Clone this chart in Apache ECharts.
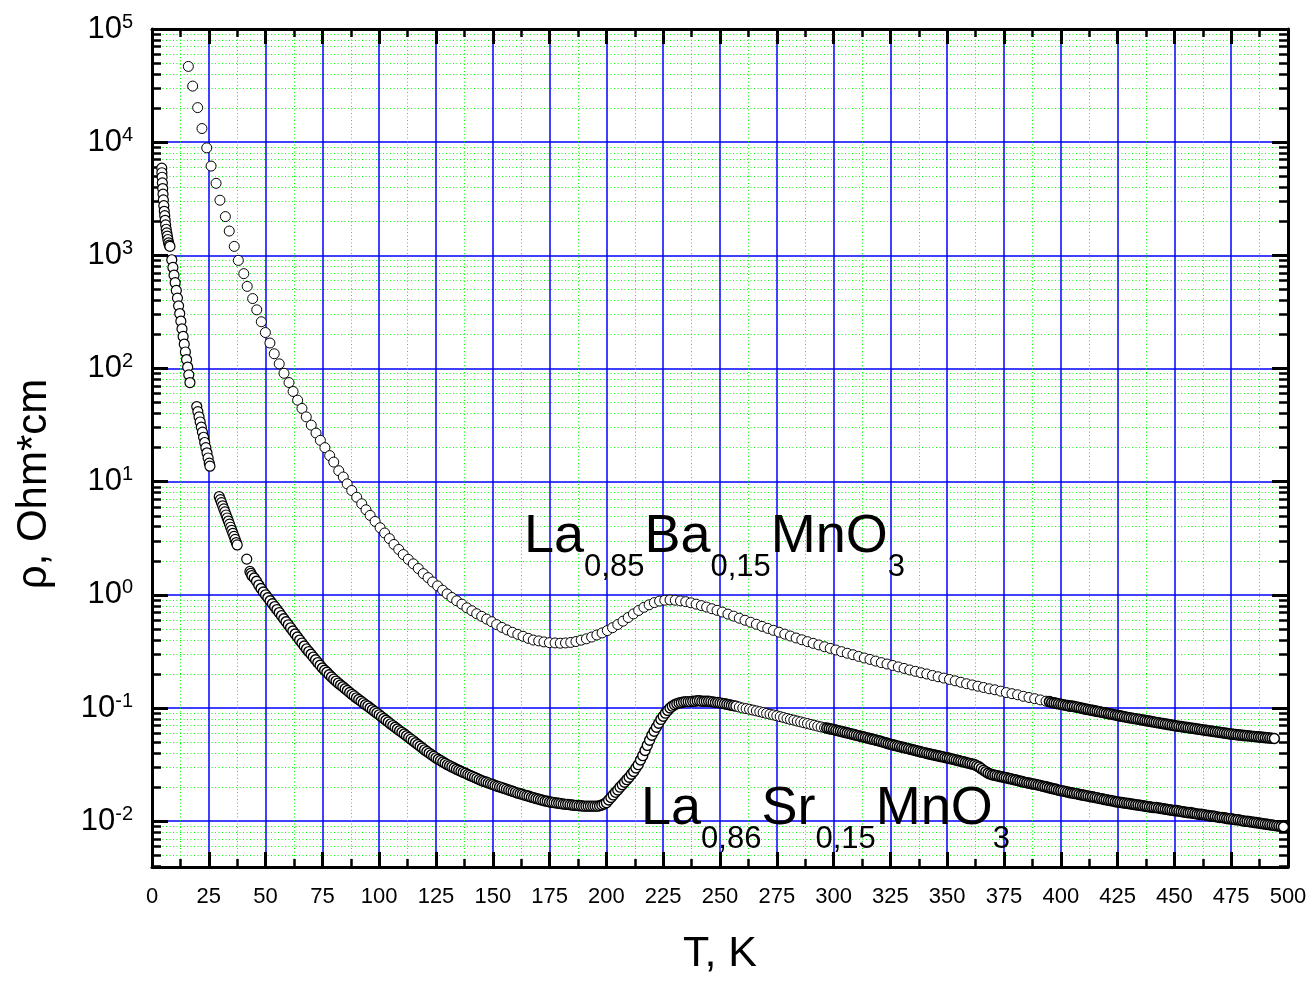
<!DOCTYPE html>
<html>
<head>
<meta charset="utf-8">
<script src="https://cdn.jsdelivr.net/npm/echarts@6/dist/echarts.min.js"></script>
<style>
html,body{margin:0;padding:0;background:#fff;}
#chart{width:1311px;height:981px;}
</style>
</head>
<body>
<div id="chart"></div>
<script>
// ---- Data: [T (K), rho (Ohm*cm)] ----
// La0.85Ba0.15MnO3 : sparse part
const baSparse = [[16.0,46700],[17.9,31300],[20.1,20200],[22.0,13200],[24.1,8910],[26.0,6150],[28.2,4330],[29.9,3070],[32.3,2200],[34.0,1640],[36.2,1200],[38.0,902],[40.4,689],[41.9,532],[44.3,415],[46.1,330],[48.1,259],[49.9,208],[51.9,168],[53.8,135],[56.0,110],[58.1,90.8],[60.3,75.2],[62.1,62.7],[64.1,52.5],[66.0,44.4],[67.9,37.4],[70.1,31.6],[72.2,26.9],[74.1,23.2],[76.1,20.0],[78.2,17.0],[80.0,14.9],[82.2,12.5],[84.2,11.0],[85.9,9.57],[87.9,8.36],[90.1,7.29],[92.3,6.38],[94.2,5.65],[96.0,5.04],[98.2,4.46],[100.4,3.92],[102.4,3.52],[104.5,3.14],[106.5,2.79],[108.6,2.52],[110.6,2.27],[112.8,2.06],[115.0,1.88],[117.2,1.71],[119.4,1.54],[121.5,1.42],[123.5,1.30],[125.7,1.20],[127.9,1.10],[129.9,1.02],[132.0,0.948],[134.1,0.887],[136.4,0.828],[138.6,0.769],[140.8,0.724],[142.9,0.681],[145.1,0.646],[147.3,0.611],[149.5,0.579],[151.7,0.546],[154.0,0.516],[156.3,0.490],[158.6,0.467],[161.0,0.448],[163.3,0.431],[165.6,0.413],[167.8,0.399],[170.2,0.392],[172.5,0.384],[174.9,0.378],[177.4,0.376],[179.7,0.374],[182.0,0.376],[184.3,0.380],[186.6,0.387],[188.9,0.398],[191.2,0.409],[193.5,0.424],[195.8,0.442],[198.1,0.461],[200.4,0.484],[202.7,0.513],[205.0,0.547],[207.3,0.586],[209.6,0.631],[211.9,0.679],[214.2,0.728],[216.5,0.776],[218.8,0.817],[221.1,0.855],[223.4,0.881],[225.7,0.897],[228.0,0.902],[230.3,0.897],[232.6,0.885],[234.9,0.871],[237.2,0.851],[239.5,0.828],[241.8,0.804],[244.1,0.780],[246.4,0.755],[248.7,0.730],[251.0,0.705],[253.5,0.676],[256.0,0.649],[258.5,0.622],[261.0,0.597],[263.5,0.573],[266.0,0.550],[268.5,0.527],[271.0,0.506],[273.5,0.486],[276.0,0.468],[278.5,0.450],[281.0,0.433],[283.5,0.416],[286.0,0.401],[288.5,0.386],[291.0,0.373],[293.5,0.361],[296.0,0.348],[298.5,0.337],[301.0,0.326],[303.5,0.315],[306.0,0.305],[308.5,0.296],[311.0,0.286],[313.5,0.277],[316.0,0.269],[318.5,0.260],[321.0,0.252],[323.5,0.245],[326.0,0.238],[328.5,0.231],[331.0,0.224],[333.5,0.217],[336.0,0.211],[338.5,0.205],[341.0,0.200],[343.5,0.194],[346.0,0.189],[348.5,0.184],[351.0,0.179],[353.5,0.174],[356.0,0.169],[358.5,0.164],[361.0,0.160],[363.5,0.156],[366.0,0.152],[368.5,0.148],[371.0,0.145],[373.5,0.141],[376.0,0.137],[378.5,0.134],[381.0,0.131],[383.5,0.127],[386.0,0.124],[388.5,0.121],[391.0,0.118],[393.5,0.115]];
// La0.85Ba0.15MnO3 : dense part
const baDense = [[395,0.114],[396,0.112],[397,0.111],[398,0.110],[399,0.109],[400,0.108],[401,0.107],[402,0.106],[403,0.105],[404,0.104],[405,0.104],[406,0.103],[407,0.102],[408,0.101],[409,0.0998],[410,0.0989],[411,0.0979],[412,0.0970],[413,0.0962],[414,0.0953],[415,0.0944],[416,0.0935],[417,0.0927],[418,0.0918],[419,0.0910],[420,0.0902],[421,0.0893],[422,0.0885],[423,0.0877],[424,0.0869],[425,0.0861],[426,0.0853],[427,0.0845],[428,0.0837],[429,0.0830],[430,0.0822],[431,0.0817],[432,0.0809],[433,0.0804],[434,0.0796],[435,0.0791],[436,0.0783],[437,0.0778],[438,0.0771],[439,0.0766],[440,0.0759],[441,0.0753],[442,0.0746],[443,0.0741],[444,0.0735],[445,0.0729],[446,0.0723],[447,0.0718],[448,0.0711],[449,0.0706],[450,0.0700],[451,0.0695],[452,0.0690],[453,0.0685],[454,0.0681],[455,0.0676],[456,0.0671],[457,0.0667],[458,0.0662],[459,0.0658],[460,0.0653],[461,0.0649],[462,0.0644],[463,0.0640],[464,0.0635],[465,0.0631],[466,0.0627],[467,0.0622],[468,0.0618],[469,0.0614],[470,0.0610],[471,0.0605],[472,0.0601],[473,0.0597],[474,0.0593],[475,0.0589],[476,0.0586],[477,0.0583],[478,0.0579],[479,0.0577],[480,0.0574],[481,0.0571],[482,0.0569],[483,0.0566],[484,0.0564],[485,0.0561],[486,0.0558],[487,0.0556],[488,0.0553],[489,0.0551],[490,0.0548],[491,0.0546],[492,0.0543],[493,0.0541],[494,0.0538]];
// La0.86Sr0.15MnO3 : low-temperature clusters
const srLowT = [[4.3,5890],[4.35,5370],[4.45,4900],[4.55,4370],[4.7,3890],[4.85,3470],[5.0,3090],[5.2,2750],[5.4,2450],[5.6,2240],[5.8,2040],[6.0,1860],[6.25,1700],[6.5,1580],[6.75,1480],[7.0,1380],[7.3,1290],[7.6,1230],[7.9,1200],
[8.7,914],[9.2,782],[9.7,668],[10.2,573],[10.7,490],[11.2,419],[11.7,358],[12.2,306],[12.7,262],[13.2,224],[13.7,192],[14.2,164],[14.7,140],[15.2,120],[15.7,103],[16.2,87.9],[16.7,75.2],
[19.7,46.1],[20.2,41.6],[20.7,37.4],[21.2,33.7],[21.7,30.3],[22.2,27.4],[22.7,24.7],[23.2,22.2],[23.7,20.0],[24.2,18.0],[24.7,16.2],[25.2,14.6],[25.5,13.7],
[29.6,7.38],[30.1,6.93],[30.6,6.52],[31.1,6.12],[31.6,5.75],[32.1,5.41],[32.6,5.08],[33.1,4.78],[33.6,4.49],[34.1,4.22],[34.6,3.96],[35.1,3.72],[35.6,3.50],[36.1,3.29],[36.6,3.09],[37.1,2.90],[37.5,2.76],
[41.7,2.07],[43.1,1.61],[43.5,1.55]];
// La0.86Sr0.15MnO3 : main curve
const srMain1 = [[44,1.48],[45,1.41],[46,1.32],[47,1.22],[48,1.14],[49,1.06],[50,1.00],[51,0.942],[52,0.887],[53,0.836],[54,0.787],[55,0.741],[56,0.697],[57,0.655],[58,0.615],[59,0.578],[60,0.543],[61,0.511],[62,0.480],[63,0.451],[64,0.424],[65,0.398],[66,0.375],[67,0.353],[68,0.333],[69,0.315],[70,0.299],[71,0.282],[72,0.267],[73,0.252],[74,0.239],[75,0.226],[76,0.216],[77,0.207],[78,0.197],[79,0.188],[80,0.180],[81,0.173],[82,0.166],[83,0.160],[84,0.154],[85,0.148],[86,0.143],[87,0.137],[88,0.132],[89,0.128],[90,0.123],[91,0.119],[92,0.115],[93,0.111],[94,0.107],[95,0.104],[96,0.100],[97,0.0966],[98,0.0933],[99,0.0902],[100,0.0871],[101,0.0839],[102,0.0809],[103,0.0780],[104,0.0752],[105,0.0724],[106,0.0700],[107,0.0676],[108,0.0653],[109,0.0631],[110,0.0610],[111,0.0589],[112,0.0569],[113,0.0550],[114,0.0531],[115,0.0513],[116,0.0494],[117,0.0476],[118,0.0459],[119,0.0443],[120,0.0427],[121,0.0413],[122,0.0400],[123,0.0387],[124,0.0375],[125,0.0363],[126,0.0353],[127,0.0344],[128,0.0334],[129,0.0325],[130,0.0316],[131,0.0309],[132,0.0302],[133,0.0295],[134,0.0288],[135,0.0282],[136,0.0276],[137,0.0270],[138,0.0265],[139,0.0259],[140,0.0254],[141,0.0249],[142,0.0244],[143,0.0239],[144,0.0234],[145,0.0229],[146,0.0225],[147,0.0222],[148,0.0218],[149,0.0214],[150,0.0211],[151,0.0207],[152,0.0204],[153,0.0201],[154,0.0198],[155,0.0195],[156,0.0192],[157,0.0189],[158,0.0186],[159,0.0183],[160,0.0180],[161,0.0177],[162,0.0175],[163,0.0173],[164,0.0170],[165,0.0168],[166,0.0166],[167,0.0163],[168,0.0161],[169,0.0159],[170,0.0157],[171,0.0155],[172,0.0153],[173,0.0151],[174,0.0150],[175,0.0148],[176,0.0147],[177,0.0146],[178,0.0145],[179,0.0144],[180,0.0143],[181,0.0142],[182,0.0141],[183,0.0141],[184,0.0140],[185,0.0139],[186,0.0138],[187,0.0138],[188,0.0137],[189,0.0137],[190,0.0136],[191,0.0136],[192,0.0136],[193,0.0136],[194,0.0136],[195,0.0136],[196,0.0136],[197,0.0137],[198,0.0139],[199,0.0142],[200,0.0146],[201,0.0154],[202,0.0162],[203,0.0171],[204,0.0180],[205,0.0189],[206,0.0200],[207,0.0210],[208,0.0221],[209,0.0233],[210,0.0245],[211,0.0260],[212,0.0275],[213,0.0295],[214,0.0316],[215,0.0347],[216,0.0380],[217,0.0422],[218,0.0468],[219,0.0519],[220,0.0575],[221,0.0624],[222,0.0676],[223,0.0733],[224,0.0794],[225,0.0847],[226,0.0902],[227,0.0951],[228,0.100],[229,0.104],[230,0.107],[231,0.109],[232,0.111],[233,0.112],[234,0.113],[235,0.114],[236,0.114],[237,0.114],[238,0.115],[239,0.115],[240,0.116],[241,0.116],[242,0.115],[243,0.115],[244,0.115],[245,0.115],[246,0.114],[247,0.113],[248,0.112],[249,0.112],[250,0.111],[251,0.110],[252,0.109],[253,0.108],[254,0.107],[255,0.106],[256,0.105],[257,0.104]];
const srMid = [[258.5,0.102],[260,0.100],[261.5,0.0989],[263,0.0975],[264.5,0.0959],[266,0.0944],[267.5,0.0929],[269,0.0912],[270.5,0.0897],[272,0.0883],[273.5,0.0869],[275,0.0855],[276.5,0.0839],[278,0.0824],[279.5,0.0809],[281,0.0794],[282.5,0.0782],[284,0.0767],[285.5,0.0755],[287,0.0741],[288.5,0.0729],[290,0.0716],[291.5,0.0705],[293,0.0692],[294.5,0.0681],[296,0.0670]];
const srMain2 = [[297,0.0664],[298,0.0658],[299,0.0652],[300,0.0646],[301,0.0638],[302,0.0631],[303,0.0624],[304,0.0617],[305,0.0610],[306,0.0603],[307,0.0596],[308,0.0589],[309,0.0582],[310,0.0575],[311,0.0569],[312,0.0562],[313,0.0556],[314,0.0550],[315,0.0543],[316,0.0537],[317,0.0531],[318,0.0525],[319,0.0519],[320,0.0513],[321,0.0506],[322,0.0499],[323,0.0492],[324,0.0485],[325,0.0479],[326,0.0473],[327,0.0468],[328,0.0462],[329,0.0457],[330,0.0452],[331,0.0447],[332,0.0442],[333,0.0437],[334,0.0432],[335,0.0427],[336,0.0422],[337,0.0417],[338,0.0412],[339,0.0407],[340,0.0403],[341,0.0398],[342,0.0394],[343,0.0390],[344,0.0386],[345,0.0382],[346,0.0378],[347,0.0374],[348,0.0371],[349,0.0366],[350,0.0363],[351,0.0359],[352,0.0355],[353,0.0351],[354,0.0347],[355,0.0343],[356,0.0339],[357,0.0335],[358,0.0331],[359,0.0327],[360,0.0324],[361,0.0320],[362,0.0316],[363,0.0309],[364,0.0302],[365,0.0292],[366,0.0282],[367,0.0274],[368,0.0266],[369,0.0261],[370,0.0257],[371,0.0255],[372,0.0252],[373,0.0249],[374,0.0247],[375,0.0244],[376,0.0242],[377,0.0239],[378,0.0237],[379,0.0234],[380,0.0232],[381,0.0229],[382,0.0226],[383,0.0224],[384,0.0221],[385,0.0219],[386,0.0217],[387,0.0215],[388,0.0213],[389,0.0211],[390,0.0209],[391,0.0207],[392,0.0204],[393,0.0202],[394,0.0200],[395,0.0197],[396,0.0195],[397,0.0193],[398,0.0191],[399,0.0188],[400,0.0186],[401,0.0185],[402,0.0183],[403,0.0181],[404,0.0179],[405,0.0178],[406,0.0176],[407,0.0175],[408,0.0173],[409,0.0171],[410,0.0170],[411,0.0168],[412,0.0167],[413,0.0165],[414,0.0164],[415,0.0162],[416,0.0161],[417,0.0159],[418,0.0158],[419,0.0156],[420,0.0155],[421,0.0153],[422,0.0152],[423,0.0151],[424,0.0149],[425,0.0148],[426,0.0147],[427,0.0146],[428,0.0145],[429,0.0144],[430,0.0143],[431,0.0142],[432,0.0141],[433,0.0140],[434,0.0139],[435,0.0138],[436,0.0137],[437,0.0136],[438,0.0135],[439,0.0134],[440,0.0133],[441,0.0132],[442,0.0132],[443,0.0131],[444,0.0130],[445,0.0129],[446,0.0128],[447,0.0127],[448,0.0126],[449,0.0125],[450,0.0124],[451,0.0124],[452,0.0123],[453,0.0122],[454,0.0121],[455,0.0120],[456,0.0119],[457,0.0119],[458,0.0118],[459,0.0117],[460,0.0116],[461,0.0115],[462,0.0115],[463,0.0114],[464,0.0113],[465,0.0112],[466,0.0111],[467,0.0111],[468,0.0110],[469,0.0109],[470,0.0108],[471,0.0108],[472,0.0107],[473,0.0106],[474,0.0105],[475,0.0105],[476,0.0104],[477,0.0103],[478,0.0103],[479,0.0102],[480,0.0101],[481,0.0100],[482,0.00998],[483,0.00991],[484,0.00984],[485,0.00977],[486,0.00971],[487,0.00964],[488,0.00957],[489,0.00951],[490,0.00944],[491,0.00938],[492,0.00931],[493,0.00925],[494,0.00918],[495,0.00912],[496,0.00906],[497,0.00899],[498,0.00891]];

// axis ranges / labels
const xRange = [0, 500];
const xStep = 25;
const yRange = [0.00394, 100000];
const xTitle = 'T, K';
const yTitle = 'ρ, Ohm*cm';
const baLabel = ['La', '0,85', 'Ba', '0,15', 'MnO', '3'];
const srLabel = ['La', '0,86', 'Sr', '0,15', 'MnO', '3'];

const FONT = '"Liberation Sans", Arial, Helvetica, sans-serif';
const chart = echarts.init(document.getElementById('chart'), null, {renderer: 'canvas'});

function markerSeries(data, bw) {
  return {
    type: 'scatter', data: data, xAxisIndex: 0, yAxisIndex: 0,
    symbol: 'circle', symbolSize: 10, silent: true, animation: false,
    itemStyle: {color: '#ffffff', borderColor: '#000000', borderWidth: bw, opacity: 1},
    emphasis: {disabled: true}
  };
}
function formula(parts) {
  let s = '';
  parts.forEach((p, i) => { s += (i % 2 === 0 ? '{m|' : '{s|') + p + '}'; });
  return s;
}
const formulaRich = {
  m: {fontSize: 54, fontFamily: FONT, fill: '#000', lineHeight: 54, verticalAlign: 'top'},
  s: {fontSize: 31, fontFamily: FONT, fill: '#000', lineHeight: 31, verticalAlign: 'top', padding: [42, 0, 0, 0]}
};

const blackLine = {color: '#000', width: 3};
function xAx(pos, show) {
  return {
    type: 'value', position: pos, min: xRange[0], max: xRange[1], interval: xStep,
    axisLine: {show: true, onZero: false, lineStyle: blackLine},
    axisTick: {show: true, inside: true, length: 15, lineStyle: {color: '#000', width: 3}},
    minorTick: {show: true, splitNumber: 2, length: 8, lineStyle: {color: '#000', width: 2.5}},
    axisLabel: {show: show, color: '#000', fontSize: 22, fontFamily: FONT, margin: 19},
    splitLine: {show: show, lineStyle: {color: '#0000ff', width: 1.5}},
    minorSplitLine: {show: show, lineStyle: {color: '#00ff00', width: 1, type: [1, 2.5]}},
    name: show ? xTitle : '', nameLocation: 'middle', nameGap: 66,
    nameTextStyle: {fontSize: 43, color: '#000', fontFamily: FONT}
  };
}
function yAx(pos, show) {
  return {
    type: 'log', logBase: 10, position: pos, min: yRange[0], max: yRange[1],
    axisLine: {show: true, onZero: false, lineStyle: blackLine},
    axisTick: {show: true, inside: true, length: 16, lineStyle: {color: '#000', width: 3}},
    minorTick: {show: true, splitNumber: 9, length: 9, lineStyle: {color: '#000', width: 2.5}},
    axisLabel: {
      show: show, margin: 19, color: '#000', fontSize: 31, fontFamily: FONT,
      formatter: function (v) {
        const e = Math.log10(v), r = Math.round(e);
        if (Math.abs(e - r) > 1e-6) return '';
        return '{b|10}{e|' + r + '}';
      },
      rich: {
        b: {fontSize: 31, fontFamily: FONT, color: '#000', lineHeight: 34, verticalAlign: 'middle'},
        e: {fontSize: 20, fontFamily: FONT, color: '#000', lineHeight: 20, verticalAlign: 'top'}
      }
    },
    splitLine: {show: show, lineStyle: {color: '#0000ff', width: 1.5}},
    minorSplitLine: {show: show, lineStyle: {color: '#00ff00', width: 1, type: [1, 2.5]}}
  };
}

const option = {
  backgroundColor: '#ffffff',
  animation: false,
  grid: {left: 152, right: 23, top: 29, bottom: 111, containLabel: false},
  xAxis: [xAx('bottom', true), xAx('top', false)],
  yAxis: [yAx('left', true), yAx('right', false)],
  series: [
    markerSeries(baSparse, 1),
    markerSeries(baDense, 1.6),
    markerSeries(srLowT, 1.2),
    markerSeries(srMain1, 1.4),
    markerSeries(srMid, 1),
    markerSeries(srMain2, 1.6)
  ],
  graphic: [
    {type: 'text', x: 34, y: 484, rotation: Math.PI / 2, z: 100, silent: true,
     style: {text: yTitle, fill: '#000', font: '42px ' + FONT, align: 'center', verticalAlign: 'middle'}},
    {type: 'text', x: 524, y: 510, z: 100, silent: true,
     style: {text: formula(baLabel), rich: formulaRich, fill: '#000', font: '54px ' + FONT}},
    {type: 'text', x: 641, y: 782, z: 100, silent: true,
     style: {text: formula(srLabel), rich: formulaRich, fill: '#000', font: '54px ' + FONT}}
  ]
};
chart.setOption(option);
</script>
</body>
</html>
